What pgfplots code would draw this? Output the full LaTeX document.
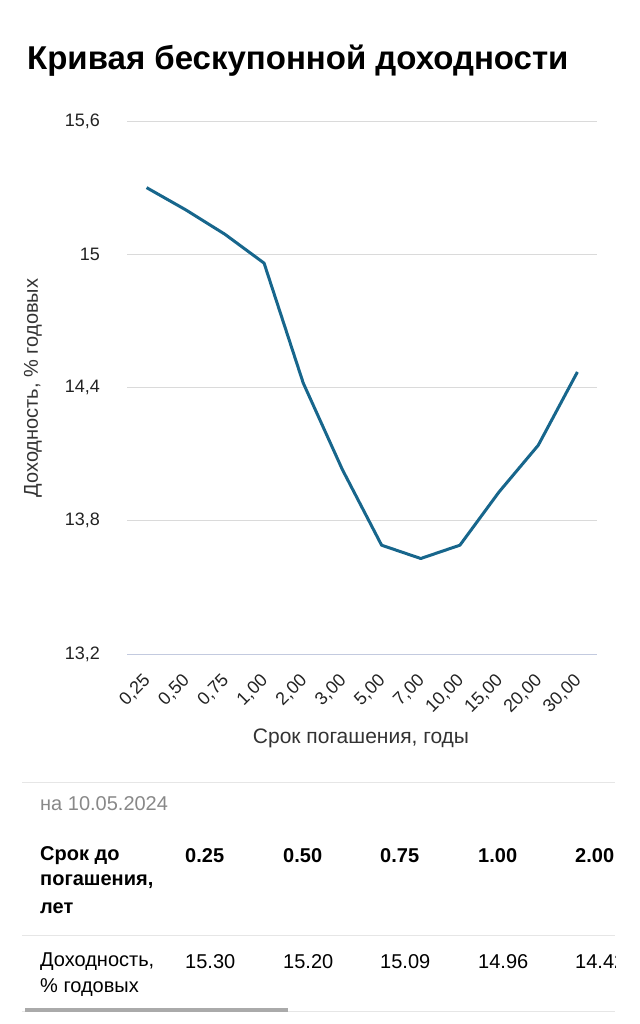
\documentclass[border=0pt]{standalone}
\usepackage{pgfplots}
\pgfplotsset{compat=1.18}
\usepackage{fontspec}
\setmainfont{Liberation Sans}
\definecolor{curve}{HTML}{17668C}
\definecolor{gridc}{HTML}{DADADA}
\definecolor{axisc}{HTML}{C3CADF}
\definecolor{ticktext}{HTML}{222222}
\definecolor{labeltext}{HTML}{333333}
\definecolor{datetext}{HTML}{888888}
\definecolor{sepc}{HTML}{E6E6E6}
\definecolor{scrollc}{HTML}{AAAAAA}
\begin{document}
\begin{tikzpicture}
\path[use as bounding box] (0pt,0pt) rectangle (639pt,-1024pt);
% title
\node[anchor=base west, inner sep=0pt, font=\fontsize{33}{38}\selectfont\bfseries] at (27pt,-70pt) {Кривая бескупонной доходности};
\begin{axis}[
  at={(127pt,-654pt)}, anchor=south west,
  scale only axis, width=470pt, height=533pt,
  xmin=-0.5, xmax=11.5, ymin=13.2, ymax=15.6,
  xtick={0,1,2,3,4,5,6,7,8,9,10,11},
  xticklabels={{0,25},{0,50},{0,75},{1,00},{2,00},{3,00},{5,00},{7,00},{10,00},{15,00},{20,00},{30,00}},
  ytick={13.2,13.8,14.4,15,15.6},
  /pgf/number format/fixed, /pgf/number format/precision=1, /pgf/number format/use comma, /pgf/number format/assume math mode=true,
  yticklabel style={anchor=east, inner sep=0pt, xshift=-27pt, font=\fontsize{18}{20}\selectfont, text=ticktext},
  xticklabel style={yshift=-24pt, xshift=1pt, rotate=45, anchor=east, inner sep=0pt, font=\fontsize{18}{20}\selectfont, text=ticktext},
  major tick length=0pt,
  axis x line*=bottom, axis y line*=left,
  y axis line style={draw=none},
  x axis line style={draw=axisc, line width=1pt, -},
  ymajorgrids, grid style={gridc, line width=0.9pt},
  clip=false,
]
\addplot[curve, line width=3pt, line join=round] coordinates {
(0,15.30) (1,15.20) (2,15.09) (3,14.96) (4,14.42) (5,14.03) (6,13.69) (7,13.63) (8,13.69) (9,13.93) (10,14.14) (11,14.47)
};
\end{axis}
% axis labels
\node[rotate=90, inner sep=0pt, font=\fontsize{20}{22}\selectfont, text=labeltext] at (33pt,-388pt) {Доходность, \% годовых};
\node[inner sep=0pt, font=\fontsize{21}{24}\selectfont, text=labeltext] at (361pt,-738pt) {Срок погашения, годы};
% table
\draw[sepc, line width=1pt] (22pt,-782pt) -- (615pt,-782pt);
\node[anchor=west, inner sep=0pt, font=\fontsize{20}{22}\selectfont, text=datetext] at (40pt,-804pt) {на 10.05.2024};
\begin{scope}
\clip (0pt,-830pt) rectangle (615pt,-1000pt);
\foreach \yy/\t in {856/{Срок до},882/{погашения,},908/{лет}}
  \node[anchor=west, inner sep=0pt, font=\fontsize{20}{22}\selectfont\bfseries] at (40pt,-\yy pt) {\t};
\foreach \xx/\t in {185/0.25,283/0.50,380/0.75,478/1.00,575/2.00}
  \node[anchor=west, inner sep=0pt, font=\fontsize{20}{22}\selectfont\bfseries] at (\xx pt,-856pt) {\t};
\node[anchor=west, inner sep=0pt, font=\fontsize{20}{22}\selectfont] at (40pt,-962pt) {Доходность,};
\node[anchor=west, inner sep=0pt, font=\fontsize{20}{22}\selectfont] at (40pt,-988pt) {\% годовых};
\foreach \xx/\t in {185/15.30,283/15.20,380/15.09,478/14.96,575/14.42}
  \node[anchor=west, inner sep=0pt, font=\fontsize{20}{22}\selectfont] at (\xx pt,-962pt) {\t};
\end{scope}
\draw[sepc, line width=1pt] (22pt,-935pt) -- (615pt,-935pt);
\draw[sepc, line width=1pt] (22pt,-1011pt) -- (615pt,-1011pt);
\draw[scrollc, line width=4pt] (25pt,-1010pt) -- (288pt,-1010pt);
\end{tikzpicture}
\end{document}
